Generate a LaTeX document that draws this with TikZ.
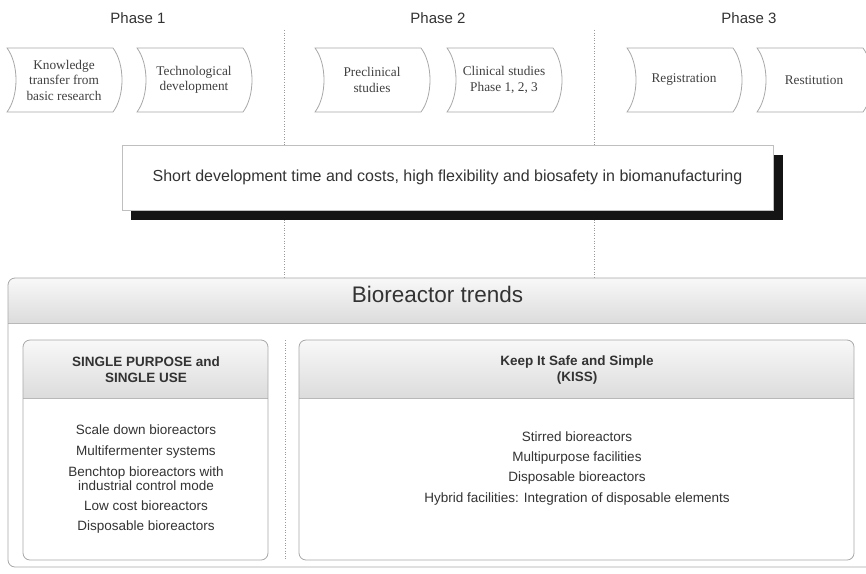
\documentclass[tikz,border=0pt]{standalone}
\usepackage{fontspec}
\setmainfont{Liberation Serif}
\setsansfont{Liberation Sans}
\usetikzlibrary{backgrounds}
\definecolor{txt}{HTML}{333333}
\definecolor{chevtxt}{HTML}{404040}
\definecolor{edge}{HTML}{A8A8A8}
\definecolor{hdtop}{HTML}{F8F8F8}
\definecolor{hdbot}{HTML}{DCDCDC}
\newcommand\chevbox[3]{%
  \draw[chevline] (#1,48) -- (#1+106,48) .. controls (#1+118,64) and (#1+118,96) .. (#1+106,112)
     -- (#1,112) .. controls (#1+12,96) and (#1+12,64) .. (#1,48) -- cycle;
  \node[chevtext] (#2) at (#1+57,80) {#3};
}
\begin{document}
\begin{tikzpicture}[x=1pt,y=-1pt,
  phase/.style={font=\sffamily\fontsize{15}{18}\selectfont, text=txt, anchor=base},
  chevline/.style={draw=edge, line width=0.8pt, fill=white},
  chevtext/.style={font=\rmfamily\fontsize{13.3}{15.5}\selectfont, text=chevtxt, align=center},
  goalbox/.style={draw=black!25, fill=white, minimum width=651pt, minimum height=65pt, inner sep=0pt, font=\sffamily\fontsize{16}{19}\selectfont, text=txt},
  divider/.style={draw=black!40, dotted, line width=0.6pt},
  panel/.style={draw=edge, line width=0.8pt, rounded corners=7pt},
  hdline/.style={draw=black!28, line width=1pt},
  hdtext/.style={font=\sffamily\bfseries\fontsize{13.5}{16}\selectfont, text=txt, align=center},
  item/.style={font=\sffamily\fontsize{13.5}{13.5}\selectfont, text=txt, align=center},
]
\useasboundingbox (0,0) rectangle (866,573);
\begin{scope}
\clip (0,0) rectangle (866,573);

% phase labels
\node[phase] (ph1) at (138,23) {Phase 1};
\node[phase] (ph2) at (438,23) {Phase 2};
\node[phase] (ph3) at (749,23) {Phase 3};

% chevrons
\chevbox{7}{c1}{Knowledge\\transfer from\\basic research}
\chevbox{137}{c2}{Technological\\development}
\chevbox{315}{c3}{Preclinical\\studies}
\chevbox{447}{c4}{Clinical studies\\Phase 1, 2, 3}
\chevbox{627}{c5}{Registration}
\chevbox{757}{c6}{Restitution}

% goal box
\node[goalbox] (goal) at (447.5,177.5) {Short development time and costs, high flexibility and biosafety in biomanufacturing};
\begin{scope}[on background layer]
  \draw[divider] (284.5,30) -- (284.5,278);
  \draw[divider] (594,30) -- (594,278);
  \fill[black!92] ([shift={(9,10)}]goal.north west) rectangle ([shift={(10,10)}]goal.south east);
\end{scope}

% outer panel
\fill[white, rounded corners=7pt] (8,278) rectangle (885,567);
\begin{scope}
  \clip[rounded corners=7pt] (8,278) rectangle (885,567);
  \shade[top color=hdtop, bottom color=hdbot] (8,278) rectangle (885,323);
\end{scope}
\draw[hdline] (8,323) -- (885,323);
\draw[panel] (8,278) rectangle (885,567);
\node[font=\sffamily\fontsize{22.5}{26}\selectfont, text=txt, anchor=base] (trends) at (437.5,302) {Bioreactor trends};

\draw[divider] (285,340) -- (285,560);

% left panel
\begin{scope}
  \clip[rounded corners=7pt] (23,340) rectangle (268,560);
  \shade[top color=hdtop, bottom color=hdbot] (23,340) rectangle (268,398);
\end{scope}
\draw[hdline] (23,398) -- (268,398);
\draw[panel] (23,340) rectangle (268,560);
\node[hdtext] (lh) at (146,369.5) {SINGLE PURPOSE and\\SINGLE USE};
\node[item] (l1) at (146,430) {Scale down bioreactors};
\node[item] (l2) at (146,452) {Multifermenter systems};
\node[item] (l3) at (146,478.5) {Benchtop bioreactors with\\industrial control mode};
\node[item] (l4) at (146,506) {Low cost bioreactors};
\node[item] (l5) at (146,527) {Disposable bioreactors};

% right panel
\begin{scope}
  \clip[rounded corners=7pt] (299,340) rectangle (854,560);
  \shade[top color=hdtop, bottom color=hdbot] (299,340) rectangle (854,398);
\end{scope}
\draw[hdline] (299,398) -- (854,398);
\draw[panel] (299,340) rectangle (854,560);
\node[hdtext] (rh) at (577,370) {Keep It Safe and Simple\\(KISS)};
\node[item] (r1) at (577,437) {Stirred bioreactors};
\node[item] (r2) at (577,458) {Multipurpose facilities};
\node[item] (r3) at (577,478) {Disposable bioreactors};
\node[item] (r4) at (577,499) {Hybrid facilities: Integration of disposable elements};
\end{scope}
\end{tikzpicture}
\end{document}
